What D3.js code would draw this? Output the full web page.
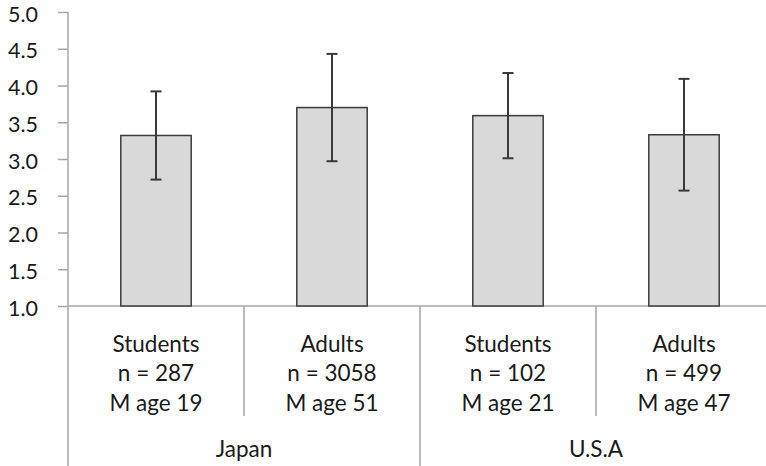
<!DOCTYPE html>
<html>
<head>
<meta charset="utf-8">
<script src="https://cdn.jsdelivr.net/npm/d3@7"></script>
<style>
  html, body { margin: 0; padding: 0; background: #fff; }
  svg { display: block; }
  text { font-family: Lato, "Open Sans", sans-serif; fill: #1a1a1a; }
</style>
</head>
<body>
<svg id="chart" width="766" height="466"></svg>
<script>
// ---- data ----
const categories = ["Students", "Adults", "Students", "Adults"];
const groups = ["Japan", "Japan", "U.S.A", "U.S.A"];
const groupNames = ["Japan", "U.S.A"];
const nValues = [287, 3058, 102, 499];
const ageValues = [19, 51, 21, 47];
const means = [3.32, 3.70, 3.59, 3.33];
const errors = [0.60, 0.73, 0.58, 0.76];
const yTicks = [1.0, 1.5, 2.0, 2.5, 3.0, 3.5, 4.0, 4.5, 5.0];

const svg = d3.select("#chart");
const W = 766, H = 466;
const mLeft = 68, mRight = 772, mTop = 12, mBottom = 306;
const axisColor = "#a6a6a6";
const barStroke = "#3a3a3a";

const idx = d3.range(categories.length);
const x = d3.scaleBand().domain(idx).range([mLeft, mRight])
  .paddingInner(0.6).paddingOuter(0.3);
const y = d3.scaleLinear().domain([1, 5]).range([mBottom, mTop]);

// y axis
const yAxis = d3.axisLeft(y).tickValues(yTicks).tickSize(10).tickPadding(20)
  .tickFormat(d3.format(".1f"));
const gy = svg.append("g").attr("transform", `translate(${mLeft},0)`).call(yAxis);
gy.select(".domain").remove();
gy.selectAll(".tick line").attr("stroke", axisColor).attr("stroke-width", 1.5);
gy.selectAll(".tick text").attr("font-size", 21.5).attr("dy", "0.42em")
  .style("font-family", "Lato, 'Open Sans', sans-serif").attr("fill", "#1a1a1a");
// vertical axis line extends through category area
svg.append("line").attr("x1", mLeft).attr("x2", mLeft).attr("y1", y(5)).attr("y2", H)
  .attr("stroke", axisColor).attr("stroke-width", 1.5);
// horizontal axis line
svg.append("line").attr("x1", mLeft).attr("x2", W).attr("y1", y(1)).attr("y2", y(1))
  .attr("stroke", axisColor).attr("stroke-width", 1.5);

// bars
svg.append("g").selectAll("rect").data(idx).join("rect")
  .attr("x", i => x(i)).attr("width", x.bandwidth())
  .attr("y", i => y(means[i])).attr("height", i => y(1) - y(means[i]))
  .attr("fill", "#d9d9d9").attr("stroke", barStroke).attr("stroke-width", 1.5);

// error bars
const eg = svg.append("g").attr("stroke", barStroke).attr("stroke-width", 2);
idx.forEach(i => {
  const cx = x(i) + x.bandwidth() / 2;
  eg.append("line").attr("x1", cx).attr("x2", cx)
    .attr("y1", y(means[i] + errors[i])).attr("y2", y(means[i] - errors[i]));
  [means[i] + errors[i], means[i] - errors[i]].forEach(v => {
    eg.append("line").attr("x1", cx - 5.5).attr("x2", cx + 5.5)
      .attr("y1", y(v)).attr("y2", y(v));
  });
});

// category separators
const step = x.step();
idx.slice(0, -1).forEach(i => {
  const bx = x(i) + x.bandwidth() + (step - x.bandwidth()) / 2;
  const isGroupBoundary = groups[i] !== groups[i + 1];
  svg.append("line").attr("x1", bx).attr("x2", bx)
    .attr("y1", y(1)).attr("y2", isGroupBoundary ? H : 416)
    .attr("stroke", axisColor).attr("stroke-width", 1.5);
});

// category labels
const lab = svg.append("g").attr("text-anchor", "middle").attr("font-size", 22.5);
idx.forEach(i => {
  const cx = x(i) + x.bandwidth() / 2;
  const lines = [categories[i], "n = " + nValues[i], "M age " + ageValues[i]];
  lines.forEach((t, k) => {
    lab.append("text").attr("x", cx).attr("y", 351.5 + k * 29.7).text(t);
  });
});

// group labels
groupNames.forEach(g => {
  const members = idx.filter(i => groups[i] === g);
  const x0 = x(members[0]) - (step - x.bandwidth()) / 2;
  const x1 = x(members[members.length - 1]) + x.bandwidth() + (step - x.bandwidth()) / 2;
  lab.append("text").attr("x", (x0 + x1) / 2).attr("y", 457).text(g);
});
</script>
</body>
</html>
